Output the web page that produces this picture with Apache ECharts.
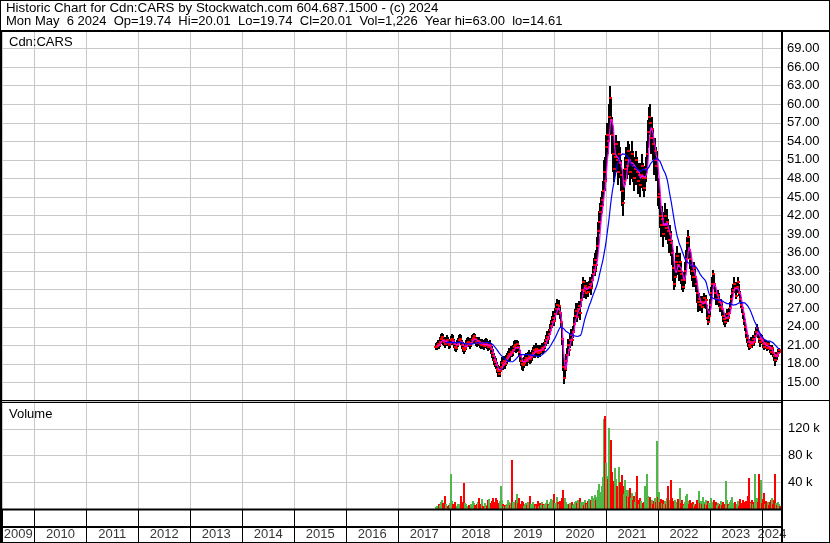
<!DOCTYPE html>
<html>
<head>
<meta charset="utf-8">
<title>Cdn:CARS historic chart</title>
<script src="https://cdn.jsdelivr.net/npm/echarts@6/dist/echarts.min.js"></script>
<style>
  html, body { margin: 0; padding: 0; background: #fff; }
  #chart { width: 830px; height: 543px; }
</style>
</head>
<body>
<div id="chart"></div>
<script>
// weekly bars (Mondays), first one below
var firstWeek = '2017-09-25';

var high = [
  21.3, 21.6, 21.9, 21.8, 22.3, 22.8, 23.0, 22.9, 22.3, 22.0,
  22.3, 22.6, 22.3, 21.9, 22.1, 22.5, 22.8, 22.6, 22.1, 21.6,
  21.4, 21.8, 22.2, 22.6, 22.9, 22.6, 21.9, 21.5, 21.1, 21.3,
  21.8, 22.2, 22.4, 22.2, 21.8, 22.2, 22.6, 22.9, 23.0, 22.9,
  22.4, 22.2, 22.4, 22.3, 22.0, 21.8, 22.1, 21.9, 21.7, 22.0,
  22.2, 22.0, 21.6, 21.7, 21.8, 21.4, 20.9, 20.4, 19.8, 19.3,
  18.9, 18.3, 17.9, 17.5, 17.7, 18.4, 19.1, 18.9, 19.3, 19.0,
  19.5, 19.8, 20.1, 20.5, 20.3, 20.9, 20.9, 21.1, 21.7, 21.9,
  21.5, 21.9, 21.7, 21.0, 20.2, 19.5, 19.0, 18.7, 19.1, 19.5,
  19.8, 19.5, 19.9, 20.2, 19.8, 20.0, 20.3, 20.7, 21.1, 20.8,
  21.3, 21.0, 20.7, 21.1, 20.9, 21.0, 21.3, 21.1, 21.6, 22.1,
  22.7, 23.3, 23.0, 23.7, 24.4, 25.1, 25.8, 26.5, 26.0, 27.0,
  27.8, 28.5, 27.9, 28.3, 27.3, 26.0, 24.9, 22.0, 18.5, 18.2,
  19.6, 20.5, 22.0, 21.6, 22.8, 23.6, 23.2, 24.2, 25.6, 26.8,
  27.9, 26.9, 27.8, 28.2, 27.4, 29.6, 31.0, 32.0, 31.0, 31.6,
  30.8, 31.2, 30.7, 31.4, 32.0, 31.4, 32.6, 33.8, 35.2, 34.6,
  36.0, 36.5, 38.5, 41.0, 42.8, 44.0, 45.0, 46.0, 47.5, 51.0,
  51.5, 55.0, 57.0, 56.5, 60.0, 63.0, 61.0, 58.0, 55.5, 52.5,
  54.0, 55.0, 54.0, 52.0, 54.0, 53.0, 51.0, 49.0, 47.0, 49.5,
  51.5, 53.0, 52.5, 54.0, 53.5, 51.5, 52.5, 54.0, 52.5, 50.5,
  51.5, 52.5, 51.5, 49.5, 50.5, 49.5, 50.5, 52.0, 50.5, 48.5,
  50.0, 51.5, 54.0, 57.5, 59.5, 60.0, 57.5, 58.0, 56.0, 53.5,
  54.5, 53.0, 52.5, 48.0, 47.5, 45.0, 43.0, 43.5, 42.0, 42.5,
  44.0, 42.5, 43.0, 41.5, 40.0, 40.5, 39.5, 38.0, 36.5, 33.5,
  33.5, 36.0, 37.0, 36.0, 34.5, 36.0, 34.5, 33.0, 32.0, 32.8,
  34.5, 36.5, 38.5, 39.7, 38.5, 36.5, 35.5, 34.5, 33.5, 34.5,
  33.5, 32.0, 31.0, 29.5, 29.5, 29.0, 29.0, 28.5, 29.0, 29.5,
  29.0, 29.2, 27.5, 25.8, 26.8, 28.5, 30.5, 32.0, 33.2, 32.5,
  31.0, 29.8, 29.5, 30.0, 29.5, 28.2, 28.5, 28.0, 27.0, 26.2,
  25.8, 26.2, 26.8, 26.4, 27.0, 28.0, 29.2, 30.2, 31.0, 32.0,
  31.2, 30.5, 31.2, 32.0, 31.0, 29.8, 28.8, 28.0, 27.2, 26.0,
  25.2, 24.2, 23.2, 22.6, 22.0, 21.8, 22.3, 22.0, 22.6, 22.4,
  23.4, 24.0, 24.4, 24.0, 23.0, 22.4, 22.8, 22.6, 21.9, 21.5,
  21.9, 21.7, 21.3, 21.7, 21.5, 21.0, 20.7, 21.0, 20.6, 20.0,
  19.4, 20.0, 19.9, 20.4, 20.6, 20.1
];

var low = [
  20.2, 20.3, 20.5, 20.4, 20.7, 21.2, 21.5, 21.2, 20.9, 20.6,
  20.8, 21.2, 20.8, 20.4, 20.7, 21.0, 21.4, 21.0, 20.6, 20.1,
  19.9, 20.2, 20.7, 21.1, 21.4, 21.0, 20.4, 19.9, 19.7, 19.8,
  20.2, 20.7, 21.0, 20.7, 20.4, 20.7, 21.1, 21.5, 21.8, 21.4,
  20.9, 20.7, 21.0, 20.8, 20.5, 20.3, 20.6, 20.4, 20.2, 20.5,
  20.7, 20.4, 20.1, 20.2, 20.2, 19.7, 19.0, 18.4, 17.8, 17.6,
  17.1, 16.5, 16.0, 15.9, 16.0, 16.7, 17.3, 17.0, 17.4, 17.2,
  17.8, 18.1, 18.4, 18.8, 18.6, 19.2, 19.2, 19.4, 19.9, 20.2,
  19.8, 20.3, 19.9, 19.1, 18.3, 17.7, 17.1, 17.0, 17.4, 17.8,
  18.1, 17.7, 18.2, 18.5, 18.0, 18.3, 18.6, 19.0, 19.4, 19.1,
  19.6, 19.3, 19.0, 19.4, 19.2, 19.5, 19.7, 19.6, 20.0, 20.5,
  21.0, 21.6, 21.2, 22.0, 22.6, 23.4, 23.9, 24.6, 24.1, 25.1,
  25.9, 26.5, 25.9, 26.4, 25.2, 23.8, 21.0, 16.8, 14.8, 15.6,
  16.8, 18.4, 19.6, 19.4, 20.6, 21.6, 21.0, 22.2, 23.4, 24.8,
  25.4, 24.8, 25.6, 26.4, 25.2, 27.2, 28.6, 29.8, 28.8, 29.4,
  28.6, 29.1, 28.8, 29.4, 29.9, 29.2, 30.4, 31.4, 32.8, 32.2,
  33.2, 33.0, 35.0, 36.5, 39.0, 40.5, 41.5, 42.5, 43.5, 45.5,
  46.0, 47.5, 51.5, 52.0, 54.0, 57.0, 55.0, 52.0, 49.0, 47.5,
  48.5, 50.5, 49.0, 47.0, 49.0, 48.0, 46.0, 43.5, 42.0, 44.5,
  47.0, 48.5, 48.0, 50.0, 48.5, 47.0, 48.0, 50.0, 47.5, 46.0,
  47.0, 48.5, 47.0, 45.5, 46.5, 45.0, 46.5, 48.0, 46.0, 45.0,
  46.0, 47.5, 49.5, 53.0, 55.5, 55.0, 52.0, 53.5, 51.0, 48.5,
  50.0, 47.5, 48.0, 43.5, 43.0, 40.0, 38.5, 39.5, 37.0, 38.5,
  40.0, 38.0, 39.0, 37.5, 36.0, 37.0, 35.5, 34.0, 31.5, 30.0,
  30.5, 32.0, 33.5, 32.5, 31.5, 32.5, 31.0, 30.0, 29.5, 30.0,
  31.0, 33.0, 35.0, 36.5, 35.0, 33.5, 32.5, 31.5, 30.5, 31.5,
  30.5, 29.5, 28.0, 26.5, 27.2, 26.5, 26.8, 26.3, 27.0, 27.5,
  27.0, 27.0, 25.0, 24.3, 24.8, 25.8, 27.5, 29.5, 31.0, 30.0,
  28.5, 27.5, 27.6, 28.0, 27.2, 26.5, 26.8, 25.8, 24.8, 24.3,
  24.0, 24.5, 25.2, 24.8, 25.4, 26.2, 27.5, 28.5, 29.2, 30.0,
  29.5, 28.5, 29.5, 30.2, 29.0, 28.0, 27.0, 26.2, 25.2, 24.2,
  23.2, 22.2, 21.4, 20.7, 20.3, 20.3, 20.8, 20.5, 21.2, 20.9,
  21.6, 22.4, 23.0, 22.2, 21.4, 20.8, 21.5, 21.1, 20.6, 20.2,
  20.7, 20.4, 20.0, 20.6, 20.2, 19.7, 19.4, 19.9, 19.2, 18.5,
  17.6, 18.4, 18.6, 19.1, 19.6, 19.7
];

var close = [
  20.7, 20.9, 21.2, 21.0, 21.6, 22.0, 22.4, 21.8, 21.5, 21.2,
  21.6, 21.9, 21.4, 21.0, 21.3, 21.8, 22.0, 21.7, 21.2, 20.8,
  20.5, 21.0, 21.4, 21.8, 22.1, 21.6, 21.0, 20.6, 20.2, 20.5,
  21.0, 21.4, 21.6, 21.3, 21.0, 21.4, 21.8, 22.2, 22.5, 22.0,
  21.6, 21.4, 21.7, 21.5, 21.2, 21.0, 21.3, 21.1, 20.9, 21.2,
  21.4, 21.1, 20.8, 20.9, 21.0, 20.4, 19.8, 19.2, 18.6, 18.3,
  17.8, 17.2, 16.8, 16.4, 16.8, 17.5, 18.2, 17.8, 18.4, 18.0,
  18.6, 18.9, 19.2, 19.6, 19.4, 20.0, 19.7, 20.2, 20.8, 21.0,
  20.6, 21.2, 20.8, 20.0, 19.2, 18.5, 18.0, 17.8, 18.2, 18.6,
  18.9, 18.5, 19.0, 19.3, 18.8, 19.1, 19.4, 19.8, 20.2, 19.9,
  20.4, 20.1, 19.8, 20.2, 20.0, 20.2, 20.5, 20.3, 20.8, 21.3,
  21.8, 22.4, 22.0, 22.8, 23.5, 24.2, 24.8, 25.5, 25.0, 26.0,
  26.8, 27.5, 26.8, 27.3, 26.2, 24.8, 22.0, 17.5, 15.8, 17.2,
  18.5, 19.5, 21.0, 20.2, 21.8, 22.6, 21.9, 23.2, 24.5, 25.8,
  26.5, 25.6, 26.8, 27.3, 26.2, 28.4, 30.0, 31.2, 29.8, 30.6,
  29.5, 30.2, 29.6, 30.4, 31.0, 30.2, 31.5, 32.5, 34.0, 33.2,
  34.8, 34.0, 37.0, 39.5, 41.0, 42.5, 43.5, 44.5, 46.0, 49.0,
  47.5, 53.0, 55.0, 54.0, 58.0, 61.0, 57.5, 55.0, 52.0, 49.5,
  51.5, 53.5, 51.0, 49.0, 52.0, 50.5, 48.5, 46.0, 44.0, 47.5,
  49.5, 51.0, 50.0, 52.5, 51.0, 49.0, 50.5, 52.0, 50.0, 48.0,
  49.5, 51.0, 49.0, 47.5, 48.5, 47.0, 48.5, 50.0, 48.0, 46.5,
  48.0, 49.5, 52.0, 55.5, 58.0, 57.0, 54.5, 56.0, 53.5, 51.0,
  52.5, 50.0, 51.0, 45.0, 45.5, 42.0, 40.5, 41.5, 39.0, 40.5,
  42.0, 40.0, 41.0, 39.5, 38.0, 39.0, 37.5, 36.0, 33.5, 31.0,
  32.0, 34.5, 35.5, 34.0, 33.0, 34.5, 32.5, 31.5, 30.5, 31.5,
  33.0, 35.0, 37.5, 38.5, 36.5, 35.0, 34.0, 33.0, 32.0, 33.5,
  32.0, 31.0, 29.5, 28.0, 28.5, 27.5, 28.0, 27.2, 28.0, 28.6,
  27.8, 28.4, 25.5, 24.8, 25.8, 27.5, 29.5, 31.0, 32.5, 31.0,
  29.5, 28.5, 28.5, 29.2, 28.0, 27.2, 27.8, 26.8, 25.8, 25.2,
  24.8, 25.5, 26.0, 25.4, 26.2, 27.0, 28.5, 29.5, 30.0, 31.0,
  30.2, 29.0, 30.5, 31.2, 29.5, 28.5, 27.5, 27.0, 26.0, 25.0,
  24.0, 23.0, 22.2, 21.5, 21.0, 20.8, 21.6, 21.2, 22.0, 21.5,
  22.5, 23.2, 23.8, 23.0, 22.0, 21.5, 22.2, 21.8, 21.2, 20.8,
  21.4, 21.0, 20.6, 21.2, 20.8, 20.4, 20.0, 20.5, 19.8, 19.2,
  18.6, 19.5, 19.2, 19.8, 20.2, 20.0
];

// weekly volume, thousands of shares
var volK = [
  3, 5, 4, 8, 6, 10, 14, 9, 6, 20,
  7, 5, 4, 6, 9, 52, 12, 8, 6, 11,
  5, 4, 7, 8, 6, 19, 10, 6, 39, 9,
  7, 5, 4, 6, 5, 8, 7, 12, 9, 6,
  5, 8, 10, 16, 6, 7, 15, 5, 4, 9,
  6, 5, 14, 15, 7, 9, 12, 16, 8, 10,
  16, 14, 6, 9, 12, 34, 13, 8, 5, 6,
  4, 7, 13, 10, 6, 9, 74, 11, 8, 10,
  14, 23, 9, 17, 8, 6, 12, 10, 5, 7,
  9, 6, 11, 8, 20, 7, 5, 10, 6, 8,
  4, 7, 12, 5, 9, 6, 10, 8, 6, 7,
  9, 13, 8, 6, 10, 15, 8, 14, 22, 9,
  6, 18, 10, 8, 12, 9, 17, 28, 16, 17,
  10, 8, 6, 7, 9, 5, 11, 6, 8, 10,
  12, 9, 14, 7, 16, 11, 8, 10, 6, 13,
  9, 7, 12, 15, 8, 14, 20, 10, 16, 12,
  21, 14, 18, 29, 38, 26, 22, 35, 48, 134,
  139, 69, 50, 45, 121, 60, 103, 55, 42, 38,
  61, 45, 35, 28, 63, 40, 26, 51, 34, 22,
  43, 29, 20, 29, 18, 32, 16, 24, 14, 20,
  11, 26, 50, 13, 8, 16, 12, 7, 9, 11,
  34, 15, 52, 20, 13, 18, 9, 14, 8, 12,
  16, 10, 102, 18, 26, 11, 15, 9, 13, 8,
  12, 7, 16, 34, 10, 14, 43, 17, 12, 9,
  13, 10, 8, 15, 11, 31, 9, 14, 7, 6,
  10, 19, 23, 12, 8, 14, 9, 6, 11, 7,
  5, 8, 13, 6, 27, 9, 12, 7, 18, 10,
  8, 14, 6, 12, 9, 5, 16, 11, 8, 13,
  7, 10, 6, 9, 5, 8, 12, 6, 11, 7,
  5, 42, 14, 8, 6, 10, 13, 18, 7, 9,
  11, 6, 8, 12, 5, 15, 9, 7, 14, 10,
  6, 12, 8, 19, 47, 11, 9, 14, 7, 10,
  52, 8, 16, 10, 53, 12, 43, 9, 15, 24,
  7, 12, 9, 11, 6, 10, 14, 17, 8, 13,
  52, 9, 6, 11, 7, 4
];

var yearLabels = ['2009', '2010', '2011', '2012', '2013', '2014', '2015', '2016',
  '2017', '2018', '2019', '2020', '2021', '2022', '2023', '2024'];

var titleLine1 = 'Historic Chart for Cdn:CARS by Stockwatch.com 604.687.1500 - (c) 2024';
var titleLine2 = 'Mon May  6 2024  Op=19.74  Hi=20.01  Lo=19.74  Cl=20.01  Vol=1,226  Year hi=63.00  lo=14.61';

var FONT = '"Liberation Sans", Arial, sans-serif';
var DAY = 86400000;
var xMin = new Date(2009, 4, 18).getTime();
var xMax = new Date(2024, 4, 22).getTime();
var GREEN = '#50b848';

var fw = firstWeek.split('-');
var t0 = new Date(+fw[0], fw[1] - 1, +fw[2]).getTime();
var times = close.map(function (c, i) { return t0 + i * 7 * DAY; });

var ohlc = close.map(function (c, i) {
  return [times[i], low[i], high[i], c, i ? close[i - 1] : c];
});
var volData = volK.map(function (v, i) {
  return [times[i], v, (i === 0 || close[i] >= close[i - 1]) ? 1 : 0];
});

// simple moving average of weekly closes; starts once minCount weeks exist
function sma(n, minCount) {
  return close.map(function (c, i) {
    if (i < minCount - 1) return [times[i], '-'];
    var from = Math.max(0, i - n + 1), s = 0;
    for (var k = from; k <= i; k++) s += close[k];
    return [times[i], +(s / (i - from + 1)).toFixed(3)];
  });
}

// year label centred in the visible part of each year cell
var yearData = yearLabels.map(function (y) {
  var a = Math.max(new Date(+y, 0, 1).getTime(), xMin);
  var b = Math.min(new Date(+y + 1, 0, 1).getTime(), xMax);
  return [(a + b) / 2, 0.24, y];
});

function timeAxis(gridIndex, color) {
  return {
    type: 'time', gridIndex: gridIndex, min: xMin, max: xMax,
    minInterval: 365 * DAY, maxInterval: 366 * DAY, splitNumber: 15,
    axisLine: { show: false }, axisTick: { show: false }, axisLabel: { show: false },
    splitLine: { show: true, lineStyle: { color: color, width: 1, type: 'solid' } }
  };
}

function renderBar(params, api) {
  var t = api.value(0);
  var lo = api.coord([t, api.value(1)]);
  var hi = api.coord([t, api.value(2)]);
  var x = Math.round(hi[0]);
  return {
    type: 'rect',
    shape: { x: x - 1, y: Math.round(hi[1]), width: 2, height: Math.max(1, Math.round(lo[1] - hi[1])) },
    style: { fill: '#000' }
  };
}

function renderTicks(params, api) {
  var t = api.value(0);
  var cl = api.coord([t, api.value(3)]);
  var op = api.coord([t, api.value(4)]);
  var x = Math.round(cl[0]);
  return {
    type: 'group',
    children: [
      { type: 'rect', shape: { x: x - 2, y: Math.round(op[1]) - 1, width: 2, height: 2 }, style: { fill: '#ff0000' } },
      { type: 'rect', shape: { x: x, y: Math.round(cl[1]) - 1, width: 2, height: 2 }, style: { fill: '#ff0000' } }
    ]
  };
}

function renderVol(params, api) {
  var t = api.value(0);
  var top = api.coord([t, api.value(1)]);
  var base = api.coord([t, 0]);
  var x = Math.round(top[0]);
  return {
    type: 'rect',
    shape: { x: x - 1, y: Math.round(top[1]), width: 2, height: Math.round(base[1] - top[1]) },
    style: { fill: api.value(2) ? GREEN : '#ff0000' }
  };
}

function hline(x1, x2, y, w) {
  return { type: 'line', z: 100, shape: { x1: x1, y1: y, x2: x2, y2: y }, style: { stroke: '#000', lineWidth: w } };
}
function vline(x, y1, y2, w) {
  return { type: 'line', z: 100, shape: { x1: x, y1: y1, x2: x, y2: y2 }, style: { stroke: '#000', lineWidth: w } };
}
function label(text, x, y, size) {
  return { type: 'text', z: 101, x: x, y: y,
    style: { text: text, fill: '#000', font: (size || 13) + 'px ' + FONT, verticalAlign: 'middle' } };
}

var chart = echarts.init(document.getElementById('chart'), null, { renderer: 'canvas' });

chart.setOption({
  animation: false,
  backgroundColor: '#fff',
  textStyle: { fontFamily: FONT },
  grid: [
    { left: 2, right: 48, top: 30, height: 371, outerBoundsMode: 'none' },
    { left: 2, right: 48, top: 402, height: 107, outerBoundsMode: 'none' },
    { left: 2, right: 48, top: 509, height: 34, outerBoundsMode: 'none' }
  ],
  xAxis: [timeAxis(0, '#c8c8c8'), timeAxis(1, '#c8c8c8'), timeAxis(2, '#000')],
  yAxis: [
    {
      type: 'value', gridIndex: 0, position: 'right', min: 12, max: 72, interval: 3,
      axisLine: { show: false }, axisTick: { show: false },
      splitLine: { lineStyle: { color: '#c8c8c8', width: 1 } },
      axisLabel: {
        margin: 5, color: '#000', fontSize: 13, fontFamily: FONT,
        formatter: function (v) { return (v > 12 && v < 72) ? v.toFixed(2) : ''; }
      }
    },
    {
      type: 'value', gridIndex: 1, position: 'right', min: 0, max: 160, interval: 40,
      axisLine: { show: false }, axisTick: { show: false },
      splitLine: { lineStyle: { color: '#c8c8c8', width: 1 } },
      axisLabel: {
        margin: 6, color: '#000', fontSize: 13, fontFamily: FONT,
        formatter: function (v) { return (v > 0 && v < 160) ? v + ' k' : ''; }
      }
    },
    { type: 'value', gridIndex: 2, min: 0, max: 1, show: false }
  ],
  series: [
    {
      name: 'range', type: 'custom', xAxisIndex: 0, yAxisIndex: 0,
      renderItem: renderBar, data: ohlc, encode: { x: 0, y: [1, 2] }, clip: true, silent: true
    },
    {
      name: 'close', type: 'custom', xAxisIndex: 0, yAxisIndex: 0,
      renderItem: renderTicks, data: ohlc, encode: { x: 0, y: [3, 4] }, clip: true, silent: true
    },
    {
      name: 'ma4', type: 'line', xAxisIndex: 0, yAxisIndex: 0, data: sma(4, 2),
      showSymbol: false, symbol: 'none', lineStyle: { color: '#ff00ff', width: 1.2 }, silent: true
    },
    {
      name: 'ma20', type: 'line', xAxisIndex: 0, yAxisIndex: 0, data: sma(20, 10),
      showSymbol: false, symbol: 'none', lineStyle: { color: '#0000ff', width: 1.2 }, silent: true
    },
    {
      name: 'volume', type: 'custom', xAxisIndex: 1, yAxisIndex: 1,
      renderItem: renderVol, data: volData, encode: { x: 0, y: 1 }, clip: true, silent: true
    },
    {
      name: 'years', type: 'scatter', xAxisIndex: 2, yAxisIndex: 2, data: yearData,
      symbolSize: 0, silent: true,
      label: {
        show: true, position: 'inside', color: '#000', fontSize: 13, fontFamily: FONT,
        formatter: function (p) { return p.value[2]; }
      }
    }
  ],
  graphic: [
    // frame
    hline(0, 830, 0.5, 1),
    hline(0, 830, 542.5, 1),
    vline(0.5, 0, 543, 1),
    vline(829.5, 0, 543, 1),
    vline(1, 31, 543, 2),
    hline(0, 830, 31, 2),
    vline(782, 31, 543, 2),
    hline(0, 830, 400.5, 1),
    hline(0, 782, 402.5, 1),
    hline(0, 782, 509.5, 2),
    hline(0, 782, 527, 2),
    // texts
    label(titleLine1, 6, 8, 13.3),
    label(titleLine2, 6, 21),
    label('Cdn:CARS', 9, 42),
    label('Volume', 9, 414)
  ]
});
</script>
</body>
</html>
